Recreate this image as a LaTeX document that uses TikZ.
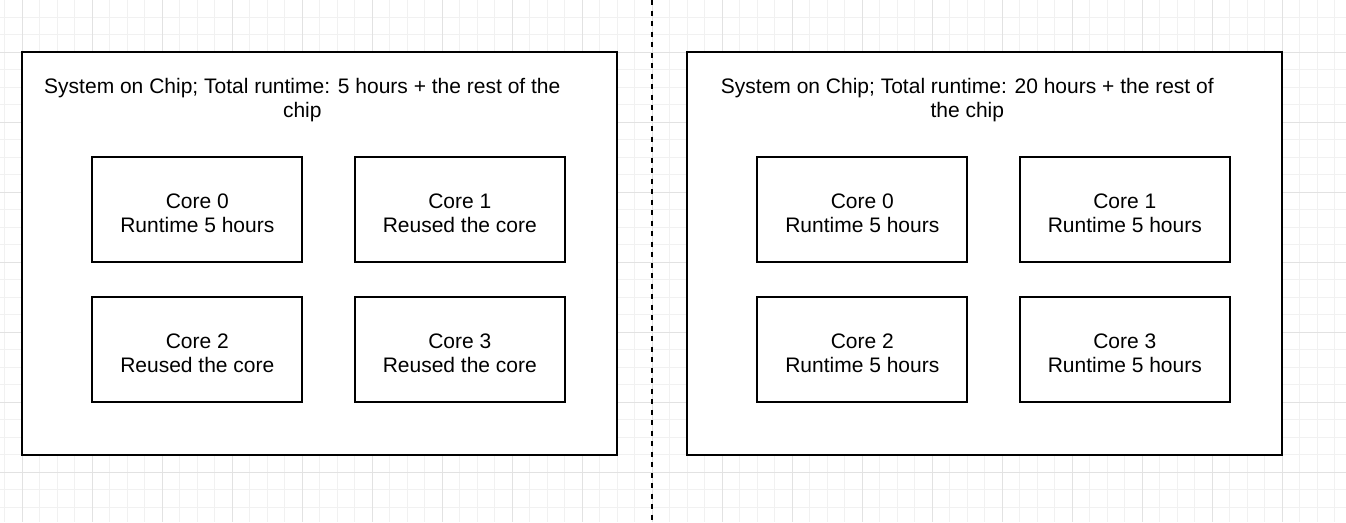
\documentclass[tikz,border=0pt]{standalone}
\usepackage{fontspec}
\setmainfont{Liberation Sans}
\usepackage{tikz}
\usetikzlibrary{calc}
\usetikzlibrary{positioning}
\definecolor{gridminor}{HTML}{F1F1F1}
\definecolor{gridmajor}{HTML}{E2E2E2}
\tikzstyle{chip} = [rectangle, draw, line width=1.75pt,
    minimum width=595pt, minimum height=403pt, inner sep=0pt, outer sep=0pt]
\tikzstyle{block} = [rectangle, draw, line width=1.75pt, align=center,
    text height=45pt, text depth=0pt,
    minimum width=210pt, minimum height=105pt, inner sep=0pt, outer sep=0pt]
\tikzstyle{title} = [align=center, inner sep=0pt]
\tikzstyle{divider} = [draw, line width=1.75pt, dash pattern=on 5.25pt off 5.25pt]

\begin{document}
\begin{tikzpicture}[x=1pt, y=-1pt, node distance = 52.5pt, font=\fontsize{21}{24}\selectfont]
\fill[white] (0,0) rectangle (1346,522);
\useasboundingbox (0,0) rectangle (1346,522);
%Grid:
\foreach \gx in {0,...,76} \draw[gridminor, line width=1pt] (4.8+17.5*\gx,0) -- (4.8+17.5*\gx,522);
\foreach \gy in {0,...,28} \draw[gridminor, line width=1pt] (0,17.3+17.5*\gy) -- (1346,17.3+17.5*\gy);
\foreach \gx in {0,...,18} \draw[gridmajor, line width=1pt] (22.3+70*\gx,0) -- (22.3+70*\gx,522);
\foreach \gy in {0,...,6} \draw[gridmajor, line width=1pt] (0,52.3+70*\gy) -- (1346,52.3+70*\gy);
%Left chip:
\node[chip, fill=white] (SoC_A) at (319.8,253.8) {};
\node (SoC_A_t) [title] at ($(SoC_A.north)+(-17.5,48)$) {System on Chip; Total runtime: 5 hours + the rest of the\\chip};
\node[block, below right = 104.7pt and 70pt of SoC_A.north west, anchor=north west] (SoC_A_C0) {Core 0\\Runtime 5 hours};
\node[block, right = of SoC_A_C0] (SoC_A_C1) {Core 1\\Reused the core};
\node[block, below = 35pt of SoC_A_C0] (SoC_A_C2) {Core 2\\Reused the core};
\node[block, right = of SoC_A_C2] (SoC_A_C3) {Core 3\\Reused the core};
%Right chip:
\node[chip, fill=white, right = 70pt of SoC_A] (SoC_B) {};
\node (SoC_B_t) [title] at ($(SoC_B.north)+(-17.5,48)$) {System on Chip; Total runtime: 20 hours + the rest of\\the chip};
\node[block, below right = 104.7pt and 70pt of SoC_B.north west, anchor=north west] (SoC_B_C0) {Core 0\\Runtime 5 hours};
\node[block, right = of SoC_B_C0] (SoC_B_C1) {Core 1\\Runtime 5 hours};
\node[block, below = 35pt of SoC_B_C0] (SoC_B_C2) {Core 2\\Runtime 5 hours};
\node[block, right = of SoC_B_C2] (SoC_B_C3) {Core 3\\Runtime 5 hours};
%Divider:
\coordinate (div_top) at (652.3,0);
\coordinate (div_bot) at (652.3,522);
\path[divider] (div_top) -- (div_bot);
\end{tikzpicture}
\end{document}
